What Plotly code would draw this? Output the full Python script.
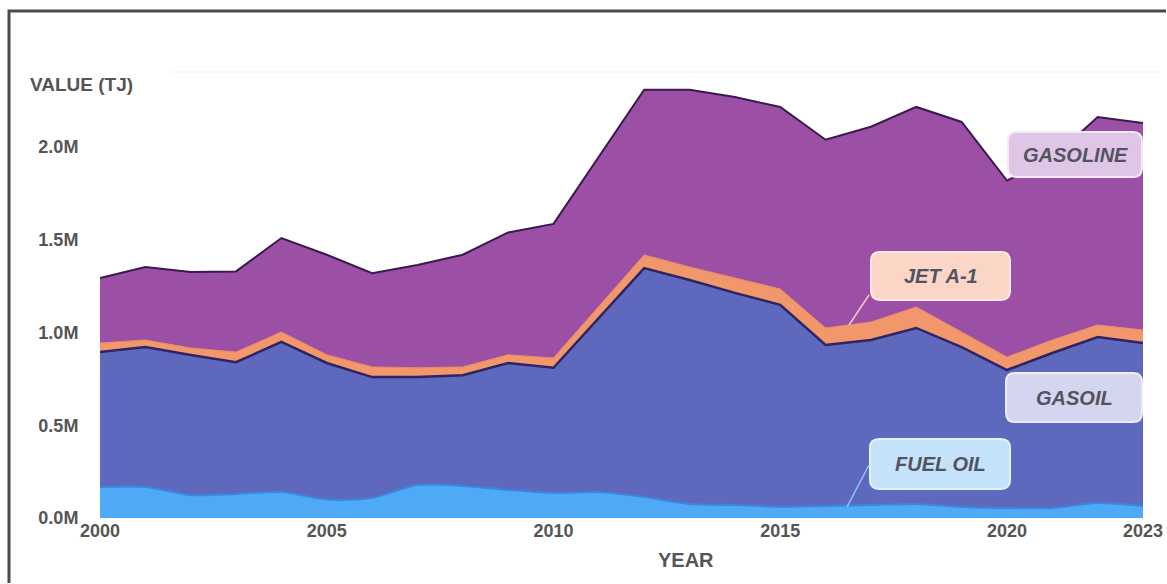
import plotly.graph_objects as go

years = list(range(2000, 2024))
fuel_oil = [167000, 167000, 124000, 130000, 140000, 100000, 108000, 178000, 173000, 151000, 135000, 140000,
            113000, 76000, 70000, 60000, 65000, 70000, 76000, 60000, 54000, 54000, 81000, 65000]
gasoil = [728000, 755000, 755000, 710000, 810000, 736000, 652000, 582000, 597000, 685000, 675000, 940000,
          1235000, 1208000, 1144000, 1090000, 868000, 890000, 949000, 862000, 744000, 836000, 895000, 879000]
jet_a1 = [49000, 38000, 38000, 55000, 53000, 44000, 55000, 50000, 45000, 44000, 53000, 60000,
          71000, 70000, 80000, 85000, 92000, 97000, 113000, 81000, 70000, 70000, 65000, 70000]
gasoline = [350000, 394000, 410000, 435000, 507000, 540000, 505000, 555000, 605000, 660000, 723000, 810000,
            891000, 956000, 976000, 982000, 1015000, 1053000, 1079000, 1133000, 952000, 980000, 1122000, 1116000]

x_ticks = [2000, 2005, 2010, 2015, 2020, 2023]
y_ticks = [0, 500000, 1000000, 1500000, 2000000]
y_ticktext = ["0.0M", "0.5M", "1.0M", "1.5M", "2.0M"]

FONT = "Liberation Sans"
W, H = 1167, 584
ML, MR, MT, MB = 100, 24, 73, 66
PW, PH = W - ML - MR, H - MT - MB


def px(xp):
    return (xp - ML) / PW


def py(yp):
    return (H - MB - yp) / PH


def rrect(x0, y0, x1, y1, r=9):
    pts = [("M", x0 + r, y0), ("L", x1 - r, y0), ("Q", x1, y0, x1, y0 + r), ("L", x1, y1 - r),
           ("Q", x1, y1, x1 - r, y1), ("L", x0 + r, y1), ("Q", x0, y1, x0, y1 - r), ("L", x0, y0 + r),
           ("Q", x0, y0, x0 + r, y0)]
    s = ""
    for p in pts:
        cmd = p[0]
        coords = p[1:]
        parts = []
        for i in range(0, len(coords), 2):
            parts.append(f"{px(coords[i]):.5f},{py(coords[i+1]):.5f}")
        s += cmd + " " + " ".join(parts) + " "
    return s + "Z"


fig = go.Figure()
fig.add_trace(go.Scatter(x=years, y=fuel_oil, name="FUEL OIL", stackgroup="one", mode="lines",
                         line=dict(color="#3d86dc", width=2, shape="spline", smoothing=0.8),
                         fillcolor="#4eaaf6"))
fig.add_trace(go.Scatter(x=years, y=gasoil, name="GASOIL", stackgroup="one", mode="lines",
                         line=dict(color="#2c2463", width=2.5), fillcolor="#5e68bd"))
fig.add_trace(go.Scatter(x=years, y=jet_a1, name="JET A-1", stackgroup="one", mode="lines",
                         line=dict(color="#e8895f", width=1), fillcolor="#f2976b"))
fig.add_trace(go.Scatter(x=years, y=gasoline, name="GASOLINE", stackgroup="one", mode="lines",
                         line=dict(color="#3a1a4e", width=2), fillcolor="#9b50a6"))

shapes = []
# outer frame: left and top edges only, kept inside the page
shapes.append(dict(type="path", xref="paper", yref="paper",
                   path=f"M {px(9):.5f},{py(583):.5f} L {px(9):.5f},{py(11):.5f} L {px(1166):.5f},{py(11):.5f}",
                   line=dict(color="#4a4a4a", width=3), layer="above"))
# faint top line
shapes.append(dict(type="line", xref="paper", yref="paper", x0=px(170), x1=px(1160), y0=py(72), y1=py(72),
                   line=dict(color="#f2f2f2", width=1)))

labels = [
    ("GASOLINE", 1008, 132, 1142, 177, "#e0c6e6", "#f3e9f5"),
    ("JET A-1", 871, 252, 1010, 300, "#fbd6c6", "#fde9e0"),
    ("GASOIL", 1006, 373, 1142, 422, "#d4d6f0", "#ecedf9"),
    ("FUEL OIL", 870, 439, 1010, 489, "#c4e3fa", "#e3f2fd"),
]
annotations = []
for text, x0, y0, x1, y1, fill, border in labels:
    shapes.append(dict(type="path", xref="paper", yref="paper", path=rrect(x0, y0, x1, y1),
                       fillcolor=fill, line=dict(color=border, width=2), layer="above"))
    annotations.append(dict(xref="paper", yref="paper", x=px((x0 + x1) / 2), y=py((y0 + y1) / 2),
                            xanchor="center", yanchor="middle",
                            text=f"<b><i>{text}</i></b>", showarrow=False,
                            font=dict(family=FONT, size=20, color="#53535f")))

# connector lines
shapes.append(dict(type="line", xref="paper", yref="paper", x0=px(869), y0=py(295), x1=px(849), y1=py(325),
                   line=dict(color="#f4c7c7", width=1.5), layer="above"))
shapes.append(dict(type="line", xref="paper", yref="paper", x0=px(869), y0=py(465), x1=px(847), y1=py(507),
                   line=dict(color="#8fc8f5", width=1.5), layer="above"))

annotations.append(dict(xref="paper", yref="paper", x=px(28), y=py(84), xanchor="left", yanchor="middle",
                        text="<b>VALUE (TJ)</b>", showarrow=False,
                        font=dict(family=FONT, size=19, color="#555555")))
annotations.append(dict(xref="paper", yref="paper", x=px(686), y=py(560), xanchor="center", yanchor="middle",
                        text="<b>YEAR</b>", showarrow=False,
                        font=dict(family=FONT, size=20, color="#555555")))

fig.update_layout(
    width=W, height=H,
    margin=dict(l=ML, r=MR, t=MT, b=MB),
    paper_bgcolor="white", plot_bgcolor="white",
    showlegend=False,
    shapes=shapes, annotations=annotations,
    xaxis=dict(range=[2000, 2023], tickvals=x_ticks, ticktext=[str(t) for t in x_ticks],
               showgrid=False, zeroline=False, showline=False, ticks="", automargin=False,
               tickfont=dict(family=FONT, size=18, color="#555555", weight="bold")),
    yaxis=dict(range=[0, 2400000], tickvals=y_ticks, ticktext=y_ticktext, automargin=False,
               showgrid=False, zeroline=False, showline=False, ticks="outside", ticklen=17,
               tickcolor="rgba(0,0,0,0)",
               tickfont=dict(family=FONT, size=18, color="#555555", weight="bold")),
)

fig.write_html("out.html")
